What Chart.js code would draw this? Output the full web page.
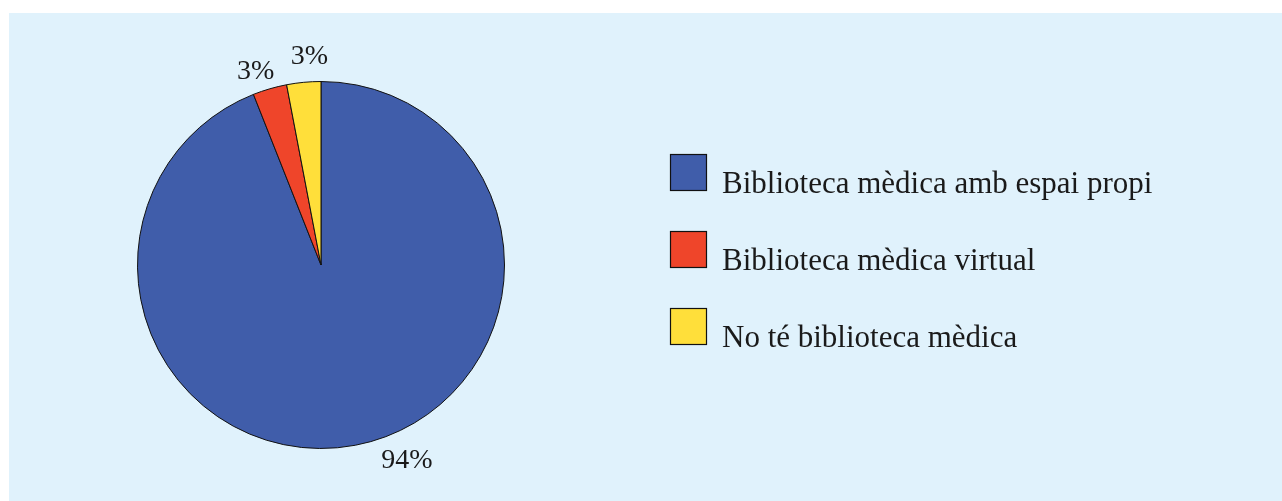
<!DOCTYPE html>
<html>
<head>
<meta charset="utf-8">
<script src="https://cdn.jsdelivr.net/npm/chart.js@4"></script>
<style>
    html, body { margin: 0; padding: 0; background: #ffffff; }
    #panel {
        position: absolute;
        left: 9px;
        top: 13px;
        width: 1273px;
        height: 488px;
        background: #e0f2fc;
    }
</style>
</head>
<body>
<div id="panel"><canvas id="chartLibrary" width="1273" height="488"></canvas></div>
<script>
const categories = ["Biblioteca mèdica amb espai propi", "Biblioteca mèdica virtual", "No té biblioteca mèdica"];
const shares = [94, 3, 3];
const colours = ["#405daa", "#ef452a", "#ffdf3a"];

const serif = '"Liberation Serif", "DejaVu Serif", serif';
const inkColour = "#1a1a1a";

// percent labels just outside each slice
const sliceLabels = {
    id: 'sliceLabels',
    afterDatasetsDraw(chart, args, opts) {
        const ctx = chart.ctx;
        const arcs = chart.getDatasetMeta(0).data;
        ctx.save();
        ctx.font = opts.size + 'px ' + serif;
        ctx.fillStyle = inkColour;
        ctx.textAlign = 'center';
        ctx.textBaseline = 'middle';
        arcs.forEach((arc, i) => {
            const p = arc.getProps(['x', 'y', 'startAngle', 'endAngle', 'outerRadius'], true);
            const mid = (p.startAngle + p.endAngle) / 2 + opts.shift[i] * Math.PI / 180;
            const r = p.outerRadius + opts.gap[i];
            ctx.fillText(shares[i] + '%', p.x + Math.cos(mid) * r, p.y + Math.sin(mid) * r);
        });
        ctx.restore();
    }
};

// legend on the right: boxed swatch, text sitting just under the swatch's bottom line
const sideLegend = {
    id: 'sideLegend',
    afterDraw(chart, args, opts) {
        const ctx = chart.ctx;
        const ds = chart.data.datasets[0];
        ctx.save();
        ctx.font = opts.size + 'px ' + serif;
        ctx.textAlign = 'left';
        ctx.textBaseline = 'alphabetic';
        chart.data.labels.forEach((label, i) => {
            const top = opts.top + i * opts.step;
            ctx.fillStyle = ds.backgroundColor[i];
            ctx.fillRect(opts.left, top, opts.box, opts.box);
            ctx.strokeStyle = '#111111';
            ctx.lineWidth = 1.2;
            ctx.strokeRect(opts.left + 0.5, top + 0.5, opts.box - 1, opts.box - 1);
            ctx.fillStyle = inkColour;
            ctx.fillText(label, opts.left + opts.box + 15, top + opts.box + 2);
        });
        ctx.restore();
    }
};

const ctx = document.getElementById('chartLibrary').getContext('2d');
new Chart(ctx, {
    type: 'pie',
    data: {
        labels: categories,
        datasets: [
            {
                data: shares,
                backgroundColor: colours,
                borderColor: '#111111',
                borderWidth: 1,
            },
        ]
    },
    options: {
        responsive: false,
        animation: false,
        layout: {
            padding: { left: 128, right: 777, top: 68, bottom: 52 }
        },
        plugins: {
            legend: {
                display: false
            },
            tooltip: {
                enabled: false
            },
            sliceLabels: {
                size: 28,
                shift: [-12.9, -2.4, 2.2],
                gap: [30, 21, 25]
            },
            sideLegend: {
                size: 31,
                left: 661,
                top: 141,
                step: 77,
                box: 37
            }
        }
    },
    plugins: [sliceLabels, sideLegend]
});
</script>
</body>
</html>
